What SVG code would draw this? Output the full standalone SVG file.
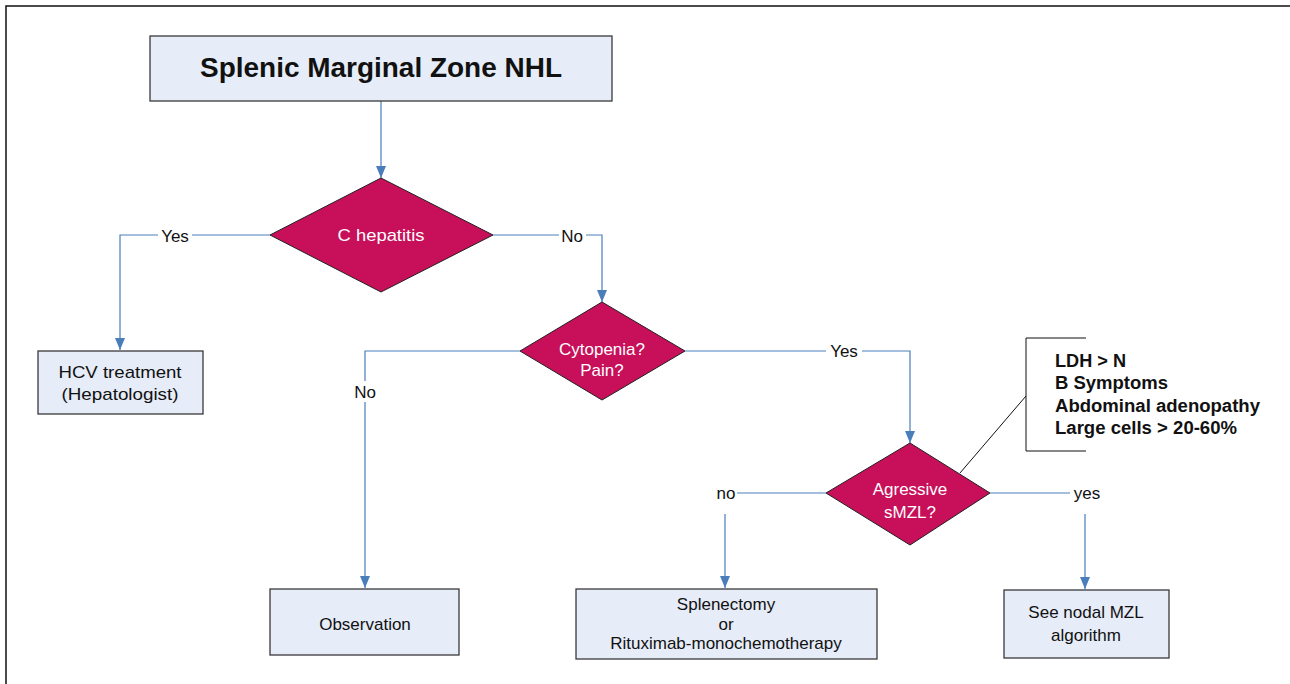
<svg xmlns="http://www.w3.org/2000/svg" width="1290" height="684" viewBox="0 0 1290 684">
<style>
.box{fill:#E6ECF8;stroke:#3a3a3a;stroke-width:1.3}
.dia{fill:#C70F5A;stroke:#222;stroke-width:1}
.con{fill:none;stroke:#4A7EBB;stroke-width:1.2}
.t{font-family:"Liberation Sans",Arial,sans-serif;font-size:17px;fill:#111;text-anchor:middle}
.w{fill:#fff}
.lbl{font-family:"Liberation Sans",Arial,sans-serif;font-size:17px;fill:#111;text-anchor:middle}
.bg{fill:#fff}
.ann{font-family:"Liberation Sans",Arial,sans-serif;font-size:18px;font-weight:bold;fill:#111}
</style>
<defs>
<marker id="arr" markerWidth="12" markerHeight="10" refX="12" refY="5" orient="auto" markerUnits="userSpaceOnUse">
<path d="M0,0 L12,5 L0,10 Z" fill="#4A7EBB"/>
</marker>
</defs>
<rect width="1290" height="684" fill="#fff"/>
<path d="M6,684 V6 H1290" fill="none" stroke="#111" stroke-width="1.5"/>

<g id="connectors">
<path class="con" d="M381,101 V178" marker-end="url(#arr)"/>
<path class="con" d="M270,235 H120 V350" marker-end="url(#arr)"/>
<path class="con" d="M493,235 H602 V302" marker-end="url(#arr)"/>
<path class="con" d="M520,351 H365 V588" marker-end="url(#arr)"/>
<path class="con" d="M685,351 H910 V443" marker-end="url(#arr)"/>
<path class="con" d="M826,493 H725 V588" marker-end="url(#arr)"/>
<path class="con" d="M990,493 H1085 V589" marker-end="url(#arr)"/>
<rect class="bg" x="158" y="226" width="34" height="18"/>
<text class="lbl" x="175" y="242">Yes</text>
<rect class="bg" x="559" y="226" width="27" height="18"/>
<text class="lbl" x="572" y="242">No</text>
<rect class="bg" x="352" y="381" width="26" height="21"/>
<text class="lbl" x="365" y="398">No</text>
<rect class="bg" x="826" y="342" width="36" height="18"/>
<text class="lbl" x="844" y="357">Yes</text>
<rect class="bg" x="715" y="484" width="22" height="30"/>
<text class="lbl" x="726" y="499">no</text>
<rect class="bg" x="1070" y="484" width="33" height="30"/>
<text class="lbl" x="1087" y="499">yes</text>
</g>

<g id="title">
<rect class="box" x="150" y="36" width="462" height="65"/>
<text x="381" y="77" font-family="'Liberation Sans',Arial,sans-serif" font-size="27" font-weight="bold" fill="#111" text-anchor="middle" textLength="362" lengthAdjust="spacingAndGlyphs">Splenic Marginal Zone NHL</text>
</g>

<g id="c-hepatitis">
<polygon class="dia" points="381,178 493,235 381,292 270,235"/>
<text class="t w" x="381" y="241" textLength="87" lengthAdjust="spacingAndGlyphs">C hepatitis</text>
</g>

<g id="hcv">
<rect class="box" x="38" y="351" width="165" height="63"/>
<text class="t" x="120" y="378" textLength="123" lengthAdjust="spacingAndGlyphs">HCV treatment</text>
<text class="t" x="120" y="400" textLength="117" lengthAdjust="spacingAndGlyphs">(Hepatologist)</text>
</g>

<g id="cytopenia">
<polygon class="dia" points="602,302 685,351 602,400 520,351"/>
<text class="t w" x="602" y="355">Cytopenia?</text>
<text class="t w" x="602" y="376">Pain?</text>
</g>

<g id="observation">
<rect class="box" x="270" y="589" width="189" height="66"/>
<text class="t" x="365" y="630">Observation</text>
</g>

<g id="aggressive">
<polygon class="dia" points="910,443 990,493 910,545 826,493"/>
<text class="t w" x="910" y="495">Agressive</text>
<text class="t w" x="910" y="518">sMZL?</text>
</g>

<g id="criteria">
<path d="M1086,338 H1026 V451 H1086" fill="none" stroke="#111" stroke-width="1"/>
<path d="M1026,396 L960,473" fill="none" stroke="#111" stroke-width="1"/>
<text class="ann" x="1055" y="367" textLength="71" lengthAdjust="spacingAndGlyphs">LDH &gt; N</text>
<text class="ann" x="1055" y="389" textLength="113" lengthAdjust="spacingAndGlyphs">B Symptoms</text>
<text class="ann" x="1055" y="412" textLength="205" lengthAdjust="spacingAndGlyphs">Abdominal adenopathy</text>
<text class="ann" x="1055" y="434" textLength="182" lengthAdjust="spacingAndGlyphs">Large cells &gt; 20-60%</text>
</g>

<g id="splenectomy">
<rect class="box" x="576" y="589" width="301" height="70"/>
<text class="t" x="726" y="610">Splenectomy</text>
<text class="t" x="726" y="630">or</text>
<text class="t" x="726" y="649">Rituximab-monochemotherapy</text>
</g>

<g id="nodal">
<rect class="box" x="1004" y="590" width="165" height="68"/>
<text class="t" x="1086" y="618">See nodal MZL</text>
<text class="t" x="1086" y="641">algorithm</text>
</g>
</svg>
